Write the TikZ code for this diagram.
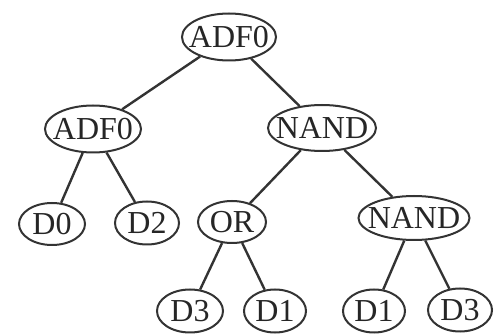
\documentclass[tikz,border=0pt]{standalone}
\usepackage{fontspec}
\setmainfont{Liberation Serif}
\usetikzlibrary{shapes.geometric}
\newcommand\tlab[1]{\raisebox{-0.33em}[0pt][0pt]{\makebox[0pt]{#1}}}
\begin{document}
\begin{tikzpicture}[x=1pt,y=-1pt,
  tn/.style={ellipse,draw=black!80,line width=2pt,inner sep=0pt,
    font=\fontsize{32}{32}\selectfont,text=black!85},
  edge/.style={draw=black!80,line width=2.4pt}]
\useasboundingbox[fill=white] (0,0) rectangle (499,334);
\node[tn,minimum width=94pt,minimum height=47pt] (r) at (229,37) {\tlab{ADF0}};
\node[tn,minimum width=96pt,minimum height=47pt] (a) at (93,129) {\tlab{ADF0}};
\node[tn,minimum width=108pt,minimum height=46pt] (n) at (322,128) {\tlab{NAND}};
\node[tn,minimum width=66pt,minimum height=42pt] (d0) at (52,224) {\tlab{D0}};
\node[tn,minimum width=64pt,minimum height=43pt] (d2) at (147,223) {\tlab{D2}};
\node[tn,minimum width=68pt,minimum height=42pt] (or) at (232,222) {\tlab{OR}};
\node[tn,minimum width=111pt,minimum height=44pt] (n2) at (414,218) {\tlab{NAND}};
\node[tn,minimum width=66pt,minimum height=43pt] (d3) at (190,311) {\tlab{D3}};
\node[tn,minimum width=62pt,minimum height=43pt] (d1) at (275,311) {\tlab{D1}};
\node[tn,minimum width=62pt,minimum height=43pt] (d1b) at (374,311) {\tlab{D1}};
\node[tn,minimum width=64pt,minimum height=43pt] (d3b) at (460,310) {\tlab{D3}};
\draw[edge] (r) -- (a);
\draw[edge] (r) -- (n);
\draw[edge] (a) -- (d0);
\draw[edge] (a) -- (d2);
\draw[edge] (n) -- (or);
\draw[edge] (n) -- (n2);
\draw[edge] (or) -- (d3);
\draw[edge] (or) -- (d1);
\draw[edge] (n2) -- (d1b);
\draw[edge] (n2) -- (d3b);
\end{tikzpicture}
\end{document}
